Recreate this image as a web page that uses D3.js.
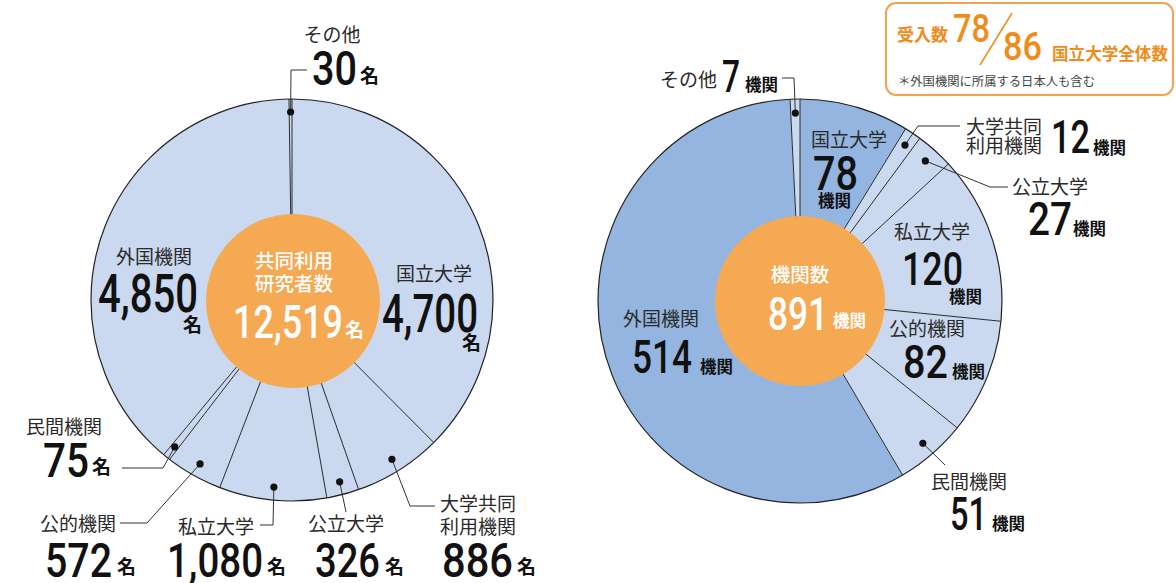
<!DOCTYPE html>
<html><head><meta charset="utf-8">
<script src="https://cdn.jsdelivr.net/npm/d3@7"></script>
<style>
html,body{margin:0;padding:0;background:#fff;}
svg{display:block;}
.jp{font-family:"Noto Sans CJK JP","Noto Sans",sans-serif;}
.num{font-family:Roboto,"Noto Sans",sans-serif;}
</style></head>
<body>
<svg id="c" width="1176" height="583"></svg>
<script>
// ---- data ----
const categories = ['国立大学','大学共同利用機関','公立大学','私立大学','公的機関','民間機関','外国機関','その他'];
const researcherValues = [4700, 886, 326, 1080, 572, 75, 4850, 30];
const institutionValues = [78, 12, 27, 120, 82, 51, 514, 7];
const researcherTotal = 12519;
const institutionTotal = 891;
const acceptedNational = 78;
const allNational = 86;
const researcherLabels = ['4,700','886','326','1,080','572','75','4,850','30'];
const institutionLabels = ['78','12','27','120','82','51','514','7'];

const svg = d3.select('#c');
const LIGHT = '#cad9ef', DARK = '#94b5e0', ORANGE = '#f5a953', ORANGE_T = '#f08c1c';
const fmt = d3.format(',');

function drawPie(cx, cy, r, values, fills) {
  const g = svg.append('g').attr('transform', `translate(${cx},${cy})`);
  const pie = d3.pie().sort(null).value(d => d)(values);
  const arc = d3.arc().innerRadius(0).outerRadius(r);
  g.selectAll('path.s').data(pie).join('path').attr('class','s')
    .attr('d', arc).attr('fill', (d,i) => fills[i]).attr('stroke','none');
  g.selectAll('line.b').data(pie).join('line').attr('class','b')
    .attr('x1',0).attr('y1',0)
    .attr('x2', d => r*Math.sin(d.startAngle)).attr('y2', d => -r*Math.cos(d.startAngle))
    .attr('stroke','#2b2b2b').attr('stroke-width',1);
  g.append('circle').attr('r', r).attr('fill','none').attr('stroke','#222').attr('stroke-width',1.2);
  return {g, pie, cx, cy};
}

function dotPos(P, i, rr) {
  const d = P.pie[i]; const a = (d.startAngle + d.endAngle)/2;
  return [P.cx + rr*Math.sin(a), P.cy - rr*Math.cos(a)];
}

function txt(x, y, s, opt) {
  const t = svg.append('text').attr('x', x).attr('y', y).text(s)
    .attr('class', opt.cls || 'jp')
    .attr('font-size', opt.size || 19)
    .attr('font-weight', opt.weight || 400)
    .attr('fill', opt.fill || '#2a2a2a')
    .attr('text-anchor', opt.anchor || 'start');
  if (opt.len) t.attr('textLength', opt.len).attr('lengthAdjust','spacingAndGlyphs');
  return t;
}

function leader(P, i, pts) {
  const [dx, dy] = dotPos(P, i, 188);
  svg.append('path').attr('d', d3.line()([[dx,dy], ...pts])).attr('fill','none')
    .attr('stroke','#333').attr('stroke-width',1);
  svg.append('circle').attr('cx',dx).attr('cy',dy).attr('r',3.6).attr('fill','#111');
}

// ---------- LEFT PIE ----------
const L = drawPie(292, 300, 201, researcherValues, researcherValues.map(() => LIGHT));
svg.append('circle').attr('cx',293).attr('cy',301).attr('r',87).attr('fill',ORANGE);

txt(294, 268, '共同利用', {size:19.5, fill:'#fff', anchor:'middle', weight:500});
txt(294, 291, '研究者数', {size:19.5, fill:'#fff', anchor:'middle', weight:500});
txt(233, 338, fmt(researcherTotal), {cls:'num', size:47, fill:'#fff', len:110, weight:500});
txt(345, 337, '名', {size:19, fill:'#fff', weight:700});

const leftLayout = [
  {name:['国立大学'], nx:434, ny:281, x:382, y:332, w:96, s:53, ux:462, uy:350},
  {name:['大学共同','利用機関'], nx:478, ny:511, x:442, y:577, w:71, s:48, ux:517, uy:574},
  {name:['公立大学'], nx:346, ny:531, x:315, y:577, w:65, s:48, ux:385, uy:574},
  {name:['私立大学'], nx:216, ny:534, x:167, y:577, w:96, s:48, ux:267, uy:574},
  {name:['公的機関'], nx:78, ny:531, x:45, y:577, w:67, s:48, ux:117, uy:574},
  {name:['民間機関'], nx:64, ny:434, x:43, y:477, w:46, s:48, ux:92, uy:474},
  {name:['外国機関'], nx:154, ny:264, x:98, y:312, w:100, s:53, ux:183, uy:332},
  {name:['その他'], nx:332, ny:42, x:312, y:85, w:45, s:49, ux:360, uy:83}
];
leftLayout.forEach((o,i) => {
  o.name.forEach((n,k) => txt(o.nx, o.ny + k*23, n, {size:19, anchor:'middle'}));
  txt(o.x, o.y, researcherLabels[i], {cls:'num', size:o.s, len:o.w, fill:'#111', weight:500});
  txt(o.ux, o.uy, '名', {size:19, weight:700, fill:'#111'});
});
leader(L, 7, [[291,70],[307,70]]);
leader(L, 5, [[163,468],[122,468]]);
leader(L, 4, [[147,523],[120,523]]);
leader(L, 3, [[273,525],[260,525]]);
leader(L, 2, [[346,512]]);
leader(L, 1, [[410,506],[435,506]]);

// ---------- RIGHT PIE ----------
const rightFills = institutionValues.map((v,i) => (i===0 || i===6) ? DARK : LIGHT);
const R = drawPie(800, 301, 202, institutionValues, rightFills);
svg.append('circle').attr('cx',800).attr('cy',301).attr('r',85).attr('fill',ORANGE);
txt(800, 282, '機関数', {size:19.5, fill:'#fff', anchor:'middle', weight:500});
txt(768, 330, String(institutionTotal), {cls:'num', size:47, fill:'#fff', len:60, weight:500});
txt(833, 327, '機関', {size:16.5, fill:'#fff', weight:700});

const rightLayout = [
  {name:['国立大学'], nx:849, ny:147, x:813, y:190, w:45, s:49, ux:818, uy:207},
  {name:['大学共同','利用機関'], nx:1004, ny:134, x:1051, y:153, w:39, s:47, ux:1093, uy:154},
  {name:['公立大学'], nx:1050, ny:194, x:1028, y:235, w:44, s:47, ux:1073, uy:235},
  {name:['私立大学'], nx:932, ny:239, x:902, y:285, w:61, s:47, ux:949, uy:303},
  {name:['公的機関'], nx:927, ny:336, x:903, y:378, w:45, s:47, ux:952, uy:378},
  {name:['民間機関'], nx:969, ny:489, x:950, y:530, w:37, s:47, ux:992, uy:530},
  {name:['外国機関'], nx:661, ny:326, x:632, y:373, w:60, s:47, ux:700, uy:373},
  {name:['その他'], nx:717, ny:87, anchor:'end', x:722, y:92, w:18, s:44, ux:745, uy:91}
];
rightLayout.forEach((o,i) => {
  o.name.forEach((n,k) => txt(o.nx, o.ny + k*18.5, n, {size:19, anchor:o.anchor || 'middle'}));
  txt(o.x, o.y, institutionLabels[i], {cls:'num', size:o.s, len:o.w, fill:'#111', weight:500});
  txt(o.ux, o.uy, '機関', {size:16.5, weight:700, fill:'#111'});
});
leader(R, 7, [[794,78],[782,78]]);
leader(R, 1, [[918,126],[960,126]]);
leader(R, 2, [[990,187],[1008,187]]);
leader(R, 5, [[945,465]]);

// ---------- note box ----------
svg.append('rect').attr('x',886).attr('y',3).attr('width',287).attr('height',92).attr('rx',10)
  .attr('fill','#fff').attr('stroke','#f4a450').attr('stroke-width',2);
txt(897, 41, '受入数', {size:17, weight:700, fill:ORANGE_T});
txt(953, 42, String(acceptedNational), {cls:'num', size:38, len:37, fill:ORANGE_T, weight:500});
svg.append('line').attr('x1',1012).attr('y1',13).attr('x2',980).attr('y2',65)
  .attr('stroke',ORANGE_T).attr('stroke-width',1.5);
txt(1003, 60, String(allNational), {cls:'num', size:38, len:39, fill:ORANGE_T, weight:500});
txt(1052, 60, '国立大学全体数', {size:16.5, weight:700, fill:ORANGE_T, len:116});
txt(898, 86, '＊外国機関に所属する日本人も含む', {size:12, fill:'#444', len:197});
</script>
</body></html>
